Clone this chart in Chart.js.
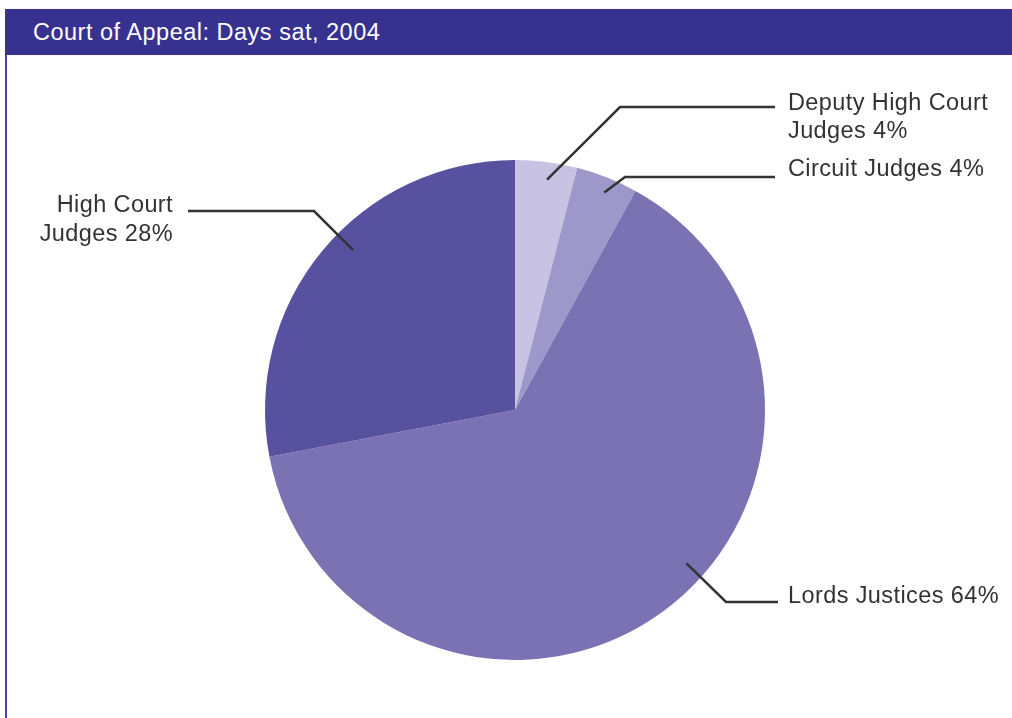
<!DOCTYPE html>
<html>
<head>
<meta charset="utf-8">
<script src="https://cdn.jsdelivr.net/npm/chart.js@4.4.1/dist/chart.umd.min.js"></script>
<style>
  html, body { margin: 0; padding: 0; background: #fff; }
  body { width: 1012px; height: 718px; position: relative; overflow: hidden; font-family: 'Liberation Sans', Arial, sans-serif; }
  #header { position: absolute; left: 5px; top: 9px; width: 1007px; height: 46px; background: #37318f; }
  #header span { position: absolute; left: 28px; top: 11px; color: #fff; font-size: 23.5px; line-height: 24px; letter-spacing: 0.5px; white-space: nowrap; }
  #leftline { position: absolute; left: 5px; top: 55px; width: 2px; height: 663px; background: #4c46a3; }
  #wrap { position: absolute; left: 0; top: 0; width: 1012px; height: 718px; }
</style>
</head>
<body>
<div id="header"><span>Court of Appeal: Days sat, 2004</span></div>
<div id="leftline"></div>
<div id="wrap"><canvas id="pie"></canvas></div>
<script>
// Data
var categories = ['Deputy High Court Judges', 'Circuit Judges', 'Lords Justices', 'High Court Judges'];
var shares = [4, 4, 64, 28];
var sliceColors = ['#c8c3e3', '#9e97c9', '#7a72b3', '#5851a0'];

// Where each label goes (t = position along the arc, r = fraction of radius)
var labelLayout = [
  { t: 0.55, r: 0.93, elbow: [620, 107], end: [775, 107], x: 788, y: [110, 138], align: 'left', breakAt: 3 },
  { t: 0.55, r: 0.94, elbow: [625, 177], end: [775, 177], x: 788, y: [176], align: 'left', breakAt: 0 },
  { t: 0.447, r: 0.92, elbow: [726, 602], end: [778, 602], x: 788, y: [603], align: 'left', breakAt: 0 },
  { t: 0.55, r: 0.91, elbow: [314, 211], end: [188, 211], x: 173, y: [212, 241], align: 'right', breakAt: 2 }
];

function labelLines(i){
  var words = (categories[i] + ' ' + shares[i] + '%').split(' ');
  var b = labelLayout[i].breakAt;
  if(!b) return [words.join(' ')];
  return [words.slice(0, b).join(' '), words.slice(b).join(' ')];
}

var leaderPlugin = {
  id: 'leaders',
  afterDatasetsDraw: function(chart){
    var ctx = chart.ctx;
    var arcs = chart.getDatasetMeta(0).data;
    ctx.save();
    ctx.strokeStyle = '#333333';
    ctx.lineWidth = 2.5;
    ctx.fillStyle = '#333333';
    ctx.font = "23.5px 'Liberation Sans', Arial, sans-serif";
    ctx.letterSpacing = '0.4px';
    ctx.textBaseline = 'alphabetic';
    arcs.forEach(function(arc, i){
      var L = labelLayout[i];
      var a = arc.startAngle + (arc.endAngle - arc.startAngle) * L.t;
      var ax = arc.x + Math.cos(a) * arc.outerRadius * L.r;
      var ay = arc.y + Math.sin(a) * arc.outerRadius * L.r;
      ctx.beginPath();
      ctx.moveTo(ax, ay);
      ctx.lineTo(L.elbow[0], L.elbow[1]);
      ctx.lineTo(L.end[0], L.end[1]);
      ctx.stroke();
      ctx.textAlign = L.align;
      labelLines(i).forEach(function(line, k){
        ctx.fillText(line, L.x, L.y[k]);
      });
    });
    ctx.restore();
  }
};

new Chart(document.getElementById('pie'), {
  type: 'pie',
  data: {
    labels: categories,
    datasets: [{
      data: shares,
      backgroundColor: sliceColors,
      borderWidth: 0
    }]
  },
  options: {
    responsive: true,
    maintainAspectRatio: false,
    animation: false,
    layout: { padding: { left: 265, right: 247, top: 160, bottom: 58 } },
    plugins: {
      legend: { display: false },
      tooltip: { enabled: false }
    }
  },
  plugins: [leaderPlugin]
});
</script>
</body>
</html>
